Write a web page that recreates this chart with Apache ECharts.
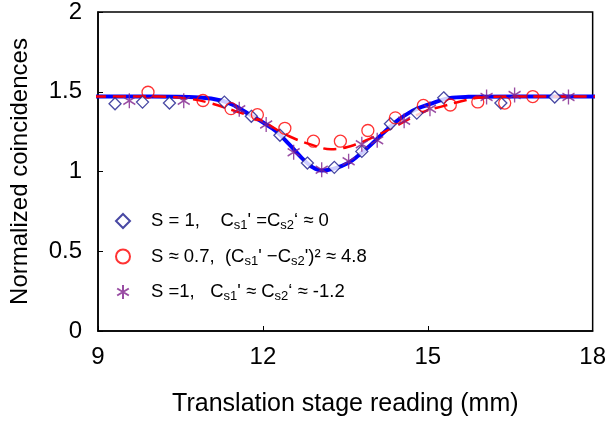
<!DOCTYPE html>
<html>
<head>
<meta charset="utf-8">
<script src="https://cdn.jsdelivr.net/npm/echarts@6/dist/echarts.min.js"></script>
<style>html,body{margin:0;padding:0;background:#fff}#c{width:609px;height:427px}</style>
</head>
<body>
<div id="c"></div>
<script>
// ---- data ----
const xTicks = [9, 12, 15, 18];
const yTicks = [0, 0.5, 1, 1.5, 2];

const diamondX = [9.31, 9.81, 10.30, 11.30, 11.79, 12.31, 12.81, 13.30, 13.80, 14.32, 14.80, 15.29, 16.33, 17.31];
const diamondY = [1.425, 1.435, 1.429, 1.435, 1.346, 1.227, 1.053, 1.026, 1.126, 1.299, 1.366, 1.462, 1.429, 1.467];

const circleX = [9.91, 10.91, 11.42, 11.90, 12.40, 12.92, 13.41, 13.91, 14.41, 14.92, 15.41, 15.91, 16.40, 16.91];
const circleY = [1.497, 1.445, 1.394, 1.356, 1.271, 1.190, 1.190, 1.257, 1.336, 1.414, 1.417, 1.436, 1.429, 1.470];

const starX = [9.57, 10.56, 11.57, 12.06, 12.56, 13.07, 13.56, 13.80, 14.08, 14.57, 15.04, 16.07, 16.58, 17.56];
const starY = [1.444, 1.444, 1.391, 1.294, 1.120, 1.011, 1.065, 1.171, 1.196, 1.318, 1.394, 1.467, 1.480, 1.467];

const blueFitX = [8.91, 9.94, 10.85, 11.26, 11.50, 11.75, 11.99, 12.24, 12.48, 12.71, 12.89, 13.07, 13.31, 13.56, 13.74, 13.92, 14.11, 14.29, 14.47, 14.65, 14.83, 15.01, 15.38, 15.74, 16.64, 18.15];
const blueFitY = [1.470, 1.470, 1.464, 1.444, 1.410, 1.358, 1.310, 1.252, 1.170, 1.084, 1.030, 1.006, 1.020, 1.055, 1.100, 1.153, 1.215, 1.273, 1.325, 1.366, 1.397, 1.419, 1.460, 1.468, 1.470, 1.470];

const redFitX = [8.91, 10.12, 10.67, 11.03, 11.51, 11.93, 12.48, 12.96, 13.24, 13.65, 14.11, 14.47, 14.95, 15.28, 15.61, 15.92, 16.64, 18.15];
const redFitY = [1.470, 1.470, 1.455, 1.430, 1.377, 1.325, 1.221, 1.159, 1.140, 1.165, 1.232, 1.294, 1.377, 1.410, 1.440, 1.462, 1.470, 1.470];

const seriesNames = ['diamond', 'circle', 'star'];
const legendTexts = {
  diamond: "{g|}S = 1,    C{sub|s1}' =C{sub|s2}‘ ≈ 0",
  circle: "{g|}S ≈ 0.7,  (C{sub|s1}' −C{sub|s2}')² ≈ 4.8",
  star: "{g|}S =1,   C{sub|s1}' ≈ C{sub|s2}‘ ≈ -1.2"
};

const zip = (xs, ys) => xs.map((x, i) => [x, ys[i]]);
const FONT = '"Liberation Sans", Arial, Helvetica, sans-serif';
const starPath = 'path://M5,0L5,12M0,3L10,9M0,9L10,3';

const chart = echarts.init(document.getElementById('c'), null, {renderer: 'canvas'});
chart.setOption({
  animation: false,
  backgroundColor: '#fff',
  grid: {left: 98, right: 14, top: 10, bottom: 96, show: true, borderColor: '#000', borderWidth: 1.5, backgroundColor: 'transparent'},
  xAxis: {
    type: 'value', min: xTicks[0], max: xTicks[xTicks.length - 1], interval: 3,
    axisLine: {show: true, onZero: false, lineStyle: {color: '#000', width: 1.5}},
    axisTick: {show: true, inside: true, length: 5, lineStyle: {color: '#000'}},
    splitLine: {show: false},
    axisLabel: {fontSize: 24, color: '#000', fontFamily: FONT, margin: 14},
    name: 'Translation stage reading (mm)', nameLocation: 'middle', nameGap: 61,
    nameTextStyle: {fontSize: 25, color: '#000', fontFamily: FONT}
  },
  yAxis: {
    type: 'value', min: yTicks[0], max: yTicks[yTicks.length - 1], interval: 0.5,
    axisLine: {show: true, onZero: false, lineStyle: {color: '#000', width: 1.5}},
    axisTick: {show: true, inside: true, length: 5, lineStyle: {color: '#000'}},
    splitLine: {show: false},
    axisLabel: {fontSize: 24, color: '#000', fontFamily: FONT, margin: 16},
    name: 'Normalized coincidences', nameLocation: 'middle', nameGap: 66, nameRotate: 90,
    nameTextStyle: {fontSize: 24, color: '#000', fontFamily: FONT}
  },
  legend: {
    orient: 'vertical', left: 110, top: 205, itemWidth: 14, itemHeight: 14, itemGap: 13.5,
    data: seriesNames,
    formatter: n => legendTexts[n],
    textStyle: {
      fontSize: 18.5, color: '#000', fontFamily: FONT, lineHeight: 22,
      rich: {
        g: {width: 16},
        sub: {fontSize: 13, lineHeight: 12, verticalAlign: 'bottom', fontFamily: FONT, color: '#000'}
      }
    }
  },
  series: [
    {type: 'line', data: zip(blueFitX, blueFitY), smooth: 0.4, symbol: 'none', clip: false,
     lineStyle: {color: '#0000ff', width: 4}, z: 2},
    {type: 'line', data: zip(redFitX, redFitY), smooth: 0.4, symbol: 'none', clip: false,
     lineStyle: {color: '#ff0000', width: 2.5, type: [13, 7]}, z: 3},
    {name: 'diamond', type: 'scatter', data: zip(diamondX, diamondY), symbol: 'diamond', symbolSize: [12, 12],
     itemStyle: {color: '#fff', borderColor: '#1a1a8c', borderWidth: 1.3}, z: 4},
    {name: 'circle', type: 'scatter', data: zip(circleX, circleY), symbol: 'circle', symbolSize: 12,
     itemStyle: {color: 'rgba(255,255,255,0)', borderColor: '#ff0000', borderWidth: 1.3}, z: 5},
    {name: 'star', type: 'scatter', data: zip(starX, starY), symbol: starPath, symbolSize: [12, 15],
     itemStyle: {color: '#80208c', borderColor: '#80208c', borderWidth: 1.5}, z: 6}
  ]
});
</script>
</body>
</html>
